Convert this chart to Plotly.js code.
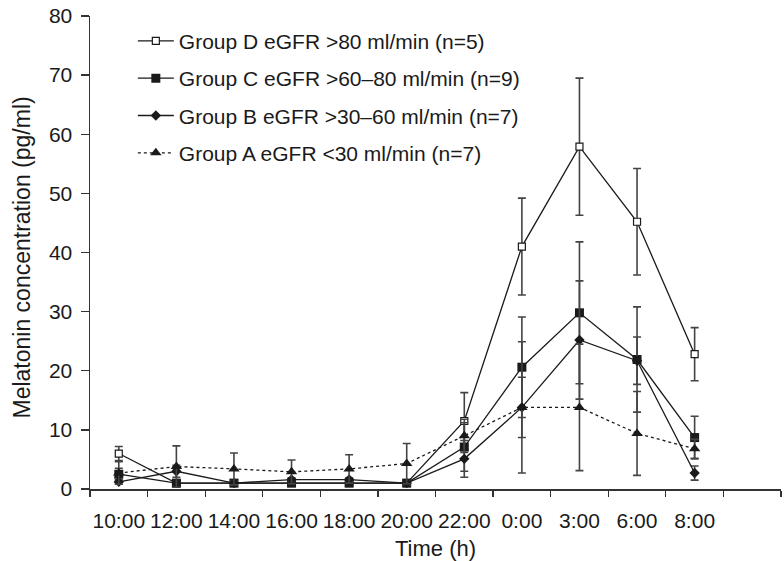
<!DOCTYPE html>
<html>
<head>
<meta charset="utf-8">
<script src="https://cdn.plot.ly/plotly-3.0.1.min.js"></script>
<style>html,body{margin:0;padding:0;background:#fff;}#chart{width:784px;height:561px;}</style>
</head>
<body>
<div id="chart"></div>
<script>
// Time points (category axis, last slot left empty as in the reference)
const times = ['10:00','12:00','14:00','16:00','18:00','20:00','22:00','0:00','3:00','6:00','8:00'];
const axisCategories = times.concat([' ']);

// Group D eGFR >80 ml/min (n=5)
const groupD = [6.0, 1.0, 1.0, 1.0, 1.0, 1.0, 11.5, 41.0, 57.9, 45.2, 22.8];
const errD   = [1.2, 0.3, 0.3, 0.3, 0.3, 0.3, 4.8, 8.2, 11.6, 9.0, 4.5];
// Group C eGFR >60–80 ml/min (n=9)
const groupC = [2.5, 1.0, 1.0, 1.0, 1.0, 1.0, 7.1, 20.6, 29.8, 21.9, 8.7];
const errC   = [1.0, 0.3, 0.3, 0.3, 0.3, 0.3, 4.1, 8.5, 12.0, 8.9, 3.6];
// Group B eGFR >30–60 ml/min (n=7)
const groupB = [1.2, 3.0, 1.0, 1.6, 1.6, 1.0, 5.1, 13.8, 25.2, 21.7, 2.7];
const errB   = [0.4, 1.0, 0.3, 0.3, 0.3, 0.3, 3.1, 11.1, 10.0, 4.0, 1.2];
// Group A eGFR <30 ml/min (n=7)
const groupA = [2.7, 3.8, 3.4, 2.9, 3.4, 4.3, 9.0, 13.8, 13.8, 9.4, 6.8];
const errA   = [1.9, 3.5, 2.7, 2.0, 2.4, 3.4, 2.8, 5.1, 10.7, 7.1, 1.6];

const names = [
  'Group D eGFR >80 ml/min (n=5)',
  'Group C eGFR >60–80 ml/min (n=9)',
  'Group B eGFR >30–60 ml/min (n=7)',
  'Group A eGFR <30 ml/min (n=7)'
];
const yTitle = 'Melatonin concentration (pg/ml)';
const xTitle = 'Time (h)';

const ink = '#1a1a1a';
const errColor = '#444';
const fontFam = '"Liberation Sans", Arial, Helvetica, sans-serif';

function errBar(arr) {
  return {type: 'data', array: arr, visible: true, color: errColor, thickness: 1.6, width: 4};
}

const traceD = {
  x: times, y: groupD, name: names[0], legendgroup: 'd',
  mode: 'lines+markers', type: 'scatter',
  line: {color: ink, width: 1.3},
  marker: {symbol: 'square', size: 7, color: '#fff', line: {color: ink, width: 1.2}},
  error_y: errBar(errD)
};
const traceC = {
  x: times, y: groupC, name: names[1], legendgroup: 'c',
  mode: 'lines+markers', type: 'scatter',
  line: {color: ink, width: 1.3},
  marker: {symbol: 'square', size: 9, color: ink},
  error_y: errBar(errC)
};
const traceB = {
  x: times, y: groupB, name: names[2], legendgroup: 'b',
  mode: 'lines+markers', type: 'scatter',
  line: {color: ink, width: 1.3},
  marker: {symbol: 'diamond', size: 8, color: ink},
  error_y: errBar(errB)
};
const traceA = {
  x: times, y: groupA, name: names[3], legendgroup: 'a',
  mode: 'lines+markers', type: 'scatter',
  line: {color: ink, width: 1.3, dash: '3px,3px'},
  marker: {symbol: 'triangle-up', size: 10, color: ink},
  error_y: errBar(errA)
};

const layout = {
  width: 784, height: 561,
  margin: {l: 90, r: 3, t: 16, b: 72, pad: 0},
  paper_bgcolor: '#fff', plot_bgcolor: '#fff',
  font: {family: fontFam, size: 21, color: ink},
  showlegend: true,
  legend: {
    x: 0.062, y: 0.99, xanchor: 'left', yanchor: 'top',
    bgcolor: 'rgba(0,0,0,0)', borderwidth: 0,
    font: {family: fontFam, size: 21, color: ink},
    tracegroupgap: 7, itemwidth: 36, traceorder: 'grouped'
  },
  xaxis: {
    type: 'category',
    categoryorder: 'array', categoryarray: axisCategories,
    range: [-0.5, 11.5],
    tickson: 'boundaries',
    tickangle: 0,
    ticks: 'outside', ticklen: 6, tickwidth: 1.3, tickcolor: '#333',
    ticklabelstandoff: 12,
    showline: true, linecolor: '#333', linewidth: 1.5,
    showgrid: false, zeroline: false,
    tickfont: {family: fontFam, size: 21, color: ink},
    title: {text: xTitle, font: {family: fontFam, size: 22, color: ink}, standoff: 10},
    fixedrange: true
  },
  yaxis: {
    range: [0, 80],
    tickvals: [0, 10, 20, 30, 40, 50, 60, 70, 80],
    ticks: 'outside', ticklen: 8, tickwidth: 1.3, tickcolor: '#333',
    ticklabelstandoff: 4,
    showline: true, linecolor: '#333', linewidth: 1.5,
    showgrid: false, zeroline: false,
    tickfont: {family: fontFam, size: 21, color: ink},
    fixedrange: true
  },
  annotations: [{
    text: yTitle, textangle: -90, showarrow: false,
    xref: 'paper', yref: 'paper', x: -0.098, y: 0.49,
    xanchor: 'center', yanchor: 'middle',
    font: {family: fontFam, size: 23, color: ink}
  }]
};

Plotly.newPlot('chart', [traceD, traceC, traceB, traceA], layout, {displayModeBar: false, staticPlot: true});
</script>
</body>
</html>
